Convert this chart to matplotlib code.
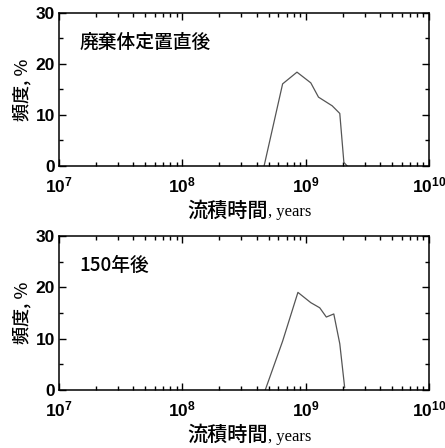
import numpy as np
import matplotlib.pyplot as plt
from matplotlib.ticker import MultipleLocator, LogLocator, FixedLocator, FixedFormatter, NullFormatter

plt.rcParams['font.family'] = ['Liberation Sans', 'DejaVu Sans']
cjk = ['Noto Sans CJK JP', 'DejaVu Sans']

# 流積時間 (years) と頻度 (%)
t_0 = [4.6e8, 6.5e8, 8.5e8, 1.1e9, 1.27e9, 1.64e9, 1.89e9, 2.04e9, 2.17e9]
f_0 = [0.0, 16.1, 18.4, 16.3, 13.5, 11.8, 10.3, 0.7, 0.0]

t_150 = [4.7e8, 6.5e8, 8.65e8, 1.1e9, 1.3e9, 1.47e9, 1.69e9, 1.89e9, 2.07e9]
f_150 = [0.0, 9.5, 19.0, 17.0, 16.0, 14.2, 14.8, 9.0, 0.5]

titles = ['廃棄体定置直後', '150年後']
xticks = [1e7, 1e8, 1e9, 1e10]
xticklabels = [r'$\mathregular{10^{7}}$', r'$\mathregular{10^{8}}$',
               r'$\mathregular{10^{9}}$', r'$\mathregular{10^{10}}$']

fig = plt.figure(figsize=(4.45, 4.48), dpi=100)
ax1 = fig.add_axes([0.1326, 0.6295, 0.8315, 0.3415])
ax2 = fig.add_axes([0.1326, 0.1295, 0.8315, 0.344])

for ax, t, f, title in [(ax1, t_0, f_0, titles[0]), (ax2, t_150, f_150, titles[1])]:
    ax.plot(t, f, color='#555555', lw=0.9)
    ax.set_xscale('log')
    ax.set_xlim(1e7, 1e10)
    ax.set_ylim(0, 30)
    ax.xaxis.set_major_locator(FixedLocator(xticks))
    ax.xaxis.set_major_formatter(FixedFormatter(xticklabels))
    ax.xaxis.set_minor_locator(LogLocator(base=10, subs=np.arange(2, 10)))
    ax.xaxis.set_minor_formatter(NullFormatter())
    ax.yaxis.set_major_locator(MultipleLocator(10))
    ax.yaxis.set_minor_locator(MultipleLocator(5))
    ax.tick_params(which='both', direction='in', top=True, right=True, labelsize=12.5, width=1)
    ax.tick_params(which='major', length=5)
    ax.tick_params(which='minor', length=3)
    ax.tick_params(axis='x', which='major', pad=7)
    ax.tick_params(axis='y', which='major', pad=3)
    for s in ax.spines.values():
        s.set_linewidth(1.1)
    for lab in ax.get_xticklabels() + ax.get_yticklabels():
        lab.set_fontweight('bold')
    ax.text(0.055, 0.81, title, transform=ax.transAxes, family=cjk,
            fontsize=13.5, fontweight='medium', va='center')
    ax.set_ylabel('頻度, %', family=cjk, fontsize=13, fontweight='medium', labelpad=3)
    lab = ax.text(0.565, -0.33, '流積時間', transform=ax.transAxes, family=cjk,
                  fontsize=14.5, fontweight='medium', ha='right', va='baseline')
    ax.annotate(', years', xy=(1, 0), xycoords=lab, va='bottom',
                family=['Liberation Serif'], fontsize=12)

fig.savefig('out.png', dpi=100)
